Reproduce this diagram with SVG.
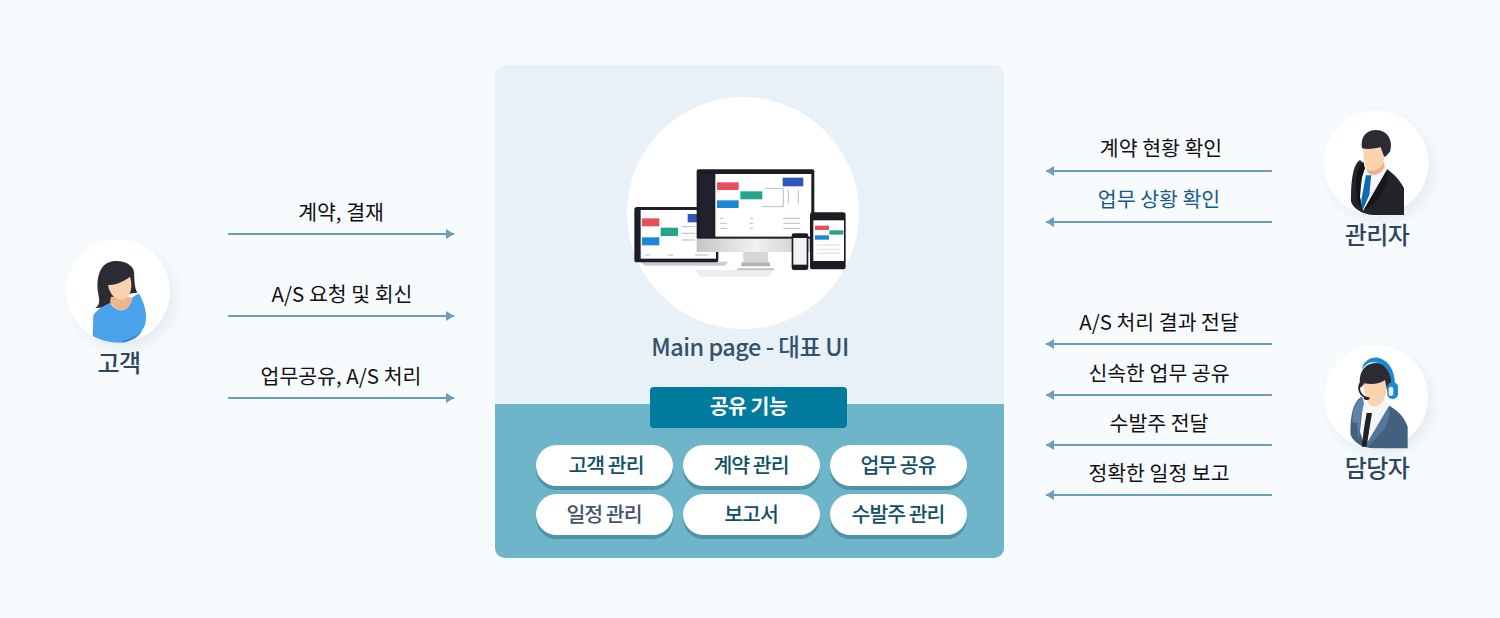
<svg xmlns="http://www.w3.org/2000/svg" width="1500" height="618" viewBox="0 0 1500 618">
<defs>
<marker id="ah" markerUnits="userSpaceOnUse" markerWidth="8" markerHeight="10" refX="8" refY="5" orient="auto"><path d="M0 0L8 5L0 10Z" fill="#6b9dbd"/></marker>
<filter id="sh" x="-30%" y="-30%" width="170%" height="170%"><feDropShadow dx="5" dy="6" stdDeviation="7" flood-color="#9fb4c4" flood-opacity=".22"/></filter>
<filter id="soft" x="-5%" y="-5%" width="110%" height="110%"><feGaussianBlur stdDeviation="1.2"/></filter>
<linearGradient id="chin" x1="0" x2="1" y1="0" y2="0"><stop offset="0" stop-color="#c4c6c8"/><stop offset=".5" stop-color="#f0f1f2"/><stop offset="1" stop-color="#c4c6c8"/></linearGradient>
</defs>
<style>
text{font-family:"Noto Sans CJK KR","Noto Sans",sans-serif;font-weight:500;text-anchor:middle}
.lb{font-size:20.5px;fill:#111;font-weight:400}
.nm{font-size:24px;fill:#2c4562;letter-spacing:-.5px}
.pl{font-size:20.5px;fill:#0f5165;letter-spacing:-1px}
.pd{fill:#fff}.ps{fill:#4f93a6}
.cn{stroke:#6b9dbd;stroke-width:2;fill:none;marker-end:url(#ah)}
.av{fill:#fff;filter:url(#sh)}
</style>
<rect width="1500" height="618" fill="#f7fbfd"/>

<g id="panel">
<rect x="495" y="65" width="509" height="493" rx="10" fill="#e8f1f7"/>
<path d="M495 404H1004V548a10 10 0 0 1-10 10H505a10 10 0 0 1-10-10Z" fill="#6fb5c9"/>
</g>

<g id="main-ui">
<circle cx="743" cy="213" r="116" fill="#fff"/>
<g transform="translate(620 90) scale(.3333)" filter="url(#soft)">
<path d="M225 540H460L450 560H240Z" fill="#eceef0"/>
<path d="M60 515H325L315 527H75Z" fill="#c9cccf"/>
<rect x="43" y="351" width="252" height="166" rx="8" fill="#1d1f2b"/>
<rect x="62" y="360" width="226" height="146" fill="#fff"/>
<rect x="66" y="385" width="52" height="24" fill="#e8505b"/>
<rect x="122" y="413" width="52" height="25" fill="#27a58a"/>
<rect x="66" y="442" width="52" height="24" fill="#1c86d8"/>
<rect x="203" y="372" width="40" height="25" fill="#2f55b8"/>
<path d="M185 410H225M185 430H225M185 450H225M75 495H90M145 495H160M225 495H265" stroke="#b5bcc2" stroke-width="3"/>
<rect x="370" y="484" width="74" height="34" fill="#d4d6d8"/>
<rect x="364" y="517" width="86" height="12" fill="#b2b5b8"/>
<rect x="352" y="535" width="110" height="5" fill="#b9bcbf"/>
<rect x="230" y="238" width="353" height="210" rx="6" fill="#1a1c24"/>
<rect x="230" y="446" width="353" height="40" fill="url(#chin)"/>
<rect x="286" y="252" width="288" height="188" fill="#fff"/>
<rect x="240" y="252" width="40" height="188" fill="#22242f"/>
<rect x="291" y="277" width="65" height="23" fill="#e8505b"/>
<rect x="361" y="304" width="66" height="24" fill="#27a58a"/>
<rect x="291" y="331" width="65" height="23" fill="#1c86d8"/>
<rect x="488" y="263" width="62" height="26" fill="#2f55b8"/>
<path d="M435 295H490V350H425M505 300V340M535 300V340M300 385H310M390 385H400M490 385H540M300 400H320M390 400H400M490 400H540M300 415H320M390 415H400M490 415H540" stroke="#aab1b7" stroke-width="2.5" fill="none"/>
<rect x="515" y="430" width="50" height="110" rx="7" fill="#1a1c24"/>
<rect x="520" y="444" width="40" height="80" fill="#f2f3f4"/>
<rect x="570" y="367" width="107" height="171" rx="8" fill="#1a1c24"/>
<rect x="580" y="391" width="92" height="122" fill="#fff"/>
<rect x="585" y="407" width="42" height="13" fill="#e8505b"/>
<rect x="628" y="421" width="42" height="13" fill="#27a58a"/>
<rect x="585" y="436" width="42" height="13" fill="#1c86d8"/>
<path d="M590 465H660M590 478H660M590 490H660" stroke="#c4c9cd" stroke-width="2"/>
</g>
<text x="750" y="356" font-size="23.5" fill="#34516b" letter-spacing="-.5">Main page - 대표 UI</text>
</g>

<g id="shared-title">
<rect x="650" y="387" width="197" height="41" rx="4" fill="#007b9e"/>
<text x="748.5" y="414" font-size="20.5" fill="#fff" letter-spacing="-.5" style="font-weight:700">공유 기능</text>
</g>

<g id="pill-customer"><rect class="ps" x="536" y="449" width="137" height="41" rx="20.5"/><rect class="pd" x="536" y="445" width="137" height="41" rx="20.5"/><text class="pl" x="606" y="473">고객 관리</text></g>
<g id="pill-contract"><rect class="ps" x="683" y="449" width="137" height="41" rx="20.5"/><rect class="pd" x="683" y="445" width="137" height="41" rx="20.5"/><text class="pl" x="751" y="473">계약 관리</text></g>
<g id="pill-work"><rect class="ps" x="830" y="449" width="137" height="41" rx="20.5"/><rect class="pd" x="830" y="445" width="137" height="41" rx="20.5"/><text class="pl" x="898" y="473">업무 공유</text></g>
<g id="pill-schedule"><rect class="ps" x="536" y="498" width="137" height="41" rx="20.5"/><rect class="pd" x="536" y="494" width="137" height="41" rx="20.5"/><text class="pl" x="604" y="522" style="fill:#3f556b">일정 관리</text></g>
<g id="pill-report"><rect class="ps" x="683" y="498" width="137" height="41" rx="20.5"/><rect class="pd" x="683" y="494" width="137" height="41" rx="20.5"/><text class="pl" x="751" y="522">보고서</text></g>
<g id="pill-order"><rect class="ps" x="830" y="498" width="137" height="41" rx="20.5"/><rect class="pd" x="830" y="494" width="137" height="41" rx="20.5"/><text class="pl" x="898" y="522">수발주 관리</text></g>

<g id="connectors">
<path class="cn" d="M228 234H454"/>
<path class="cn" d="M228 316H454"/>
<path class="cn" d="M228 398H454"/>
<path class="cn" d="M1272 171H1046"/>
<path class="cn" d="M1272 222H1046"/>
<path class="cn" d="M1272 344H1046"/>
<path class="cn" d="M1272 395H1046"/>
<path class="cn" d="M1272 445H1046"/>
<path class="cn" d="M1272 495H1046"/>
</g>

<g id="connector-labels">
<text class="lb" x="341" y="220">계약, 결재</text>
<text class="lb" x="342" y="302">A/S 요청 및 회신</text>
<text class="lb" x="341" y="384">업무공유, A/S 처리</text>
<text class="lb" x="1161" y="156">계약 현황 확인</text>
<text class="lb" x="1159" y="207" style="fill:#165a86">업무 상황 확인</text>
<text class="lb" x="1159" y="330">A/S 처리 결과 전달</text>
<text class="lb" x="1159" y="381">신속한 업무 공유</text>
<text class="lb" x="1159" y="431">수발주 전달</text>
<text class="lb" x="1159" y="481">정확한 일정 보고</text>
</g>

<g id="customer">
<circle class="av" cx="118" cy="291" r="52"/>
<g transform="translate(50 230) scale(.3333)">
<path d="M195 93C150 95 140 140 143 180C146 205 155 220 136 234C165 235 180 225 190 210L245 190L262 188C250 170 255 130 250 118C240 100 220 92 195 93Z" fill="#2b2c33"/>
<path d="M180 218C205 255 240 245 246 203C255 197 263 190 268 192C280 215 295 250 285 285C275 310 250 330 215 338C180 340 150 330 128 318L130 255C145 235 165 225 180 218Z" fill="#49a2ea"/>
<path d="M218 332C240 328 262 318 276 300C270 320 245 334 218 338Z" fill="#3a7dd6"/>
<path d="M180 215L183 200H232L247 203C240 245 205 255 180 215Z" fill="#f0b48c"/>
<path d="M174 165C190 165 215 160 240 140C248 165 245 195 225 207C205 215 180 200 174 165Z" fill="#fbd2ae"/>
</g>
<text class="nm" x="119" y="372">고객</text>
</g>

<g id="manager">
<circle class="av" cx="1376" cy="163" r="52.5"/>
<g transform="translate(1310 100) scale(.3333)">
<path d="M165 195L150 295L157 335L235 212L222 185Z" fill="#f4f6f8"/>
<path d="M150 180C125 195 123 260 123 305C135 335 170 345 200 345H282V265C270 240 250 222 232 208L160 332L150 290L160 190Z" fill="#23242a"/>
<path d="M160 185C130 215 135 280 150 320L150 250L165 205Z" fill="#111216"/>
<path d="M232 208L160 332L205 300L232 245Z" fill="#17181c"/>
<path d="M168 226H184L182 240L178 285L157 332L154 300Z" fill="#0a6bb0"/>
<path d="M160 145H222V180C215 210 190 230 172 212C162 195 160 170 160 145Z" fill="#fbd2ae"/>
<path d="M172 208C190 222 212 205 222 185L224 200C212 226 185 232 172 215Z" fill="#eeaf88"/>
<path d="M198 90C170 90 150 110 156 145C175 150 200 145 212 142C218 155 218 165 225 172L240 155C250 125 235 90 198 90Z" fill="#2b2c33"/>
</g>
<text class="nm" x="1377" y="244">관리자</text>
</g>

<g id="agent">
<circle class="av" cx="1376" cy="397" r="52"/>
<g transform="translate(1310 335) scale(.3333)">
<path d="M163 195L150 290L165 335L240 210L222 190Z" fill="#f4f6f8"/>
<path d="M155 185C125 200 120 260 122 300C135 330 165 340 200 340H293V275C280 240 260 225 238 212L165 335L150 290L160 195Z" fill="#43607f"/>
<path d="M155 185C130 205 125 250 128 262L142 265L145 320L152 250L162 205Z" fill="#5d83a8"/>
<path d="M238 212L165 335L175 335L225 280L240 240Z" fill="#54779b"/>
<path d="M170 234H186L180 270L170 335H155L162 280Z" fill="#1f2026"/>
<path d="M158 130H228V175C220 210 195 225 178 208C165 190 160 160 158 130Z" fill="#fbd2ae"/>
<path d="M178 88C150 100 145 135 152 160L163 145C190 150 210 145 225 135L232 170L250 150C262 115 225 70 178 88Z" fill="#2b2c33"/>
<path d="M155 105C160 75 185 65 205 68C235 75 255 105 255 150L244 150C245 115 225 85 195 82C175 80 165 90 155 105Z" fill="#1a8ad4"/>
<rect x="232" y="142" width="32" height="50" rx="15" fill="#1a8ad4"/>
<rect x="236" y="155" width="14" height="28" rx="7" fill="#e8eef2"/>
<path d="M150 145C143 165 150 180 170 190" stroke="#1f2026" stroke-width="5" fill="none"/>
<ellipse cx="170" cy="190" rx="9" ry="5" fill="#1f2026"/>
</g>
<text class="nm" x="1377" y="477">담당자</text>
</g>
</svg>
